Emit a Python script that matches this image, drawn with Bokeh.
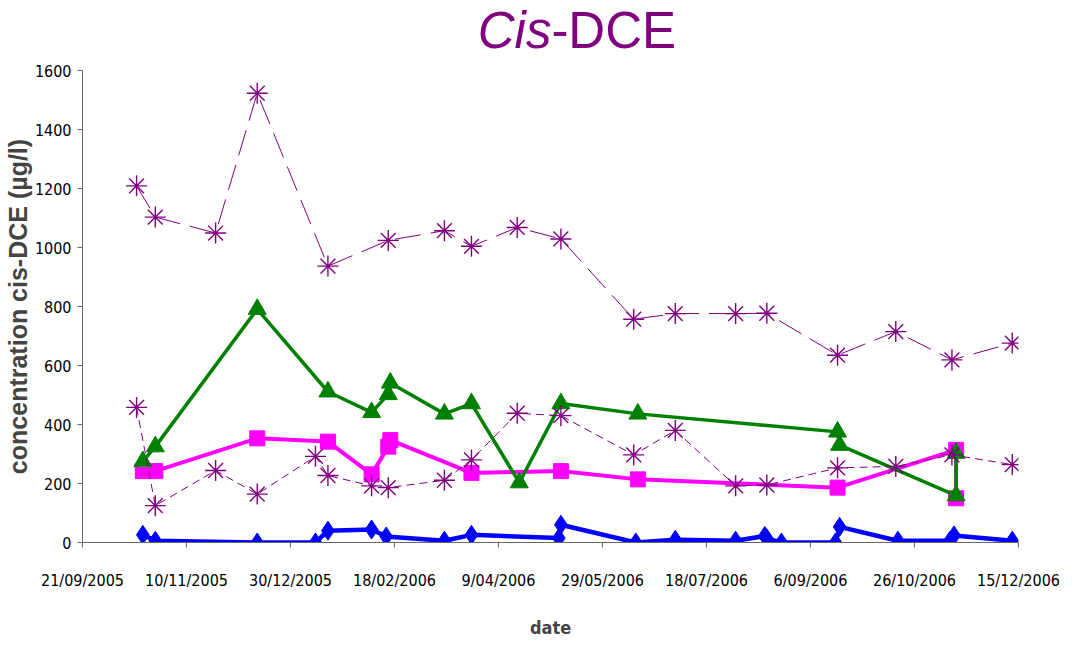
import pandas as pd
from bokeh.plotting import figure
from bokeh.layouts import column
from bokeh.models import Range1d, FixedTicker, Label
from bokeh.embed import file_html
from bokeh.resources import INLINE

# ---------------- data ----------------
upper_dates = ["2005-10-17", "2005-10-26", "2005-11-24", "2005-12-14", "2006-01-17", "2006-02-15",
               "2006-03-14", "2006-03-27", "2006-04-18", "2006-05-09", "2006-06-13", "2006-07-03",
               "2006-08-01", "2006-08-16", "2006-09-19", "2006-10-17", "2006-11-13", "2006-12-12"]
upper_vals = [1209, 1103, 1049, 1523, 937, 1024, 1057, 1004, 1068, 1029, 757, 776, 776, 777, 635, 715, 619, 676]

lower_dates = ["2005-10-17", "2005-10-26", "2005-11-24", "2005-12-14", "2006-01-11", "2006-01-17",
               "2006-02-07", "2006-02-15", "2006-03-14", "2006-03-27", "2006-04-18", "2006-05-09",
               "2006-06-13", "2006-07-03", "2006-08-01", "2006-08-16", "2006-09-19", "2006-10-17",
               "2006-11-13", "2006-12-12"]
lower_vals = [458, 125, 244, 164, 292, 227, 192, 186, 211, 280, 438, 430, 297, 380, 192, 195, 253, 258, 297, 264]

green_dates = ["2005-10-20", "2005-10-26", "2005-12-14", "2006-01-17", "2006-02-07", "2006-02-15",
               "2006-02-16", "2006-03-14", "2006-03-27", "2006-04-19", "2006-05-09", "2006-06-15",
               "2006-09-19", "2006-09-20", "2006-11-15", "2006-11-15"]
green_vals = [275, 325, 791, 511, 441, 502, 541, 436, 471, 203, 471, 436, 375, 330, 159, 303]

magenta_dates = ["2005-10-20", "2005-10-26", "2005-12-14", "2006-01-17", "2006-02-07", "2006-02-15",
                 "2006-02-16", "2006-03-27", "2006-05-09", "2006-06-15", "2006-09-19", "2006-11-15",
                 "2006-11-15"]
magenta_vals = [242, 242, 353, 342, 231, 325, 347, 236, 242, 214, 186, 314, 150]

blue_dates = ["2005-10-20", "2005-10-26", "2005-12-14", "2006-01-11", "2006-01-17", "2006-02-07",
              "2006-02-14", "2006-03-14", "2006-03-27", "2006-05-08", "2006-05-09", "2006-06-14",
              "2006-07-03", "2006-08-01", "2006-08-15", "2006-08-16", "2006-08-23", "2006-09-18",
              "2006-09-20", "2006-10-18", "2006-11-12", "2006-11-14", "2006-12-12"]
blue_vals = [26, 6, 0, 0, 40, 44, 20, 6, 26, 15, 60, 0, 9, 6, 22, 14, 0, 0, 53, 6, 6, 24, 6]

tick_dates = ["2005-09-21", "2005-11-10", "2005-12-30", "2006-02-18", "2006-04-09",
              "2006-05-29", "2006-07-18", "2006-09-06", "2006-10-26", "2006-12-15"]
tick_labels = ["21/09/2005", "10/11/2005", "30/12/2005", "18/02/2006", "9/04/2006",
               "29/05/2006", "18/07/2006", "6/09/2006", "26/10/2006", "15/12/2006"]
y_ticks = [0, 200, 400, 600, 800, 1000, 1200, 1400, 1600]


def ms(s):
    return pd.Timestamp(s).value / 1e6


def dt(lst):
    return pd.to_datetime(lst)


TICK_FONT = "'DejaVu Sans Condensed', 'Liberation Sans'"
PURPLE = "#800080"
AXIS_GREY = "#666666"
W = 1060

# ---------------- title strip ----------------
t = figure(width=W, height=60, x_range=Range1d(0, W), y_range=Range1d(0, 60),
           x_axis_location=None, y_axis_location=None, toolbar_location=None,
           output_backend="svg", min_border=0)
t.outline_line_color = None
t.grid.visible = False
t.add_layout(Label(x=531, y=30, text="Cis", text_font="Liberation Sans",
                   text_font_style="italic", text_font_size="51px", text_color=PURPLE,
                   text_align="right", text_baseline="alphabetic"))
t.add_layout(Label(x=531, y=30, text="-DCE", text_font="Liberation Sans",
                   text_font_size="51px", text_color=PURPLE,
                   text_align="left", text_baseline="alphabetic"))

# ---------------- main chart ----------------
p = figure(width=W, height=580, x_axis_type="datetime", output_backend="svg",
           toolbar_location=None,
           x_range=Range1d(ms(tick_dates[0]), ms(tick_dates[-1])), y_range=Range1d(0, 1600),
           min_border_left=75, min_border_right=42, min_border_top=10, min_border_bottom=89)
p.outline_line_color = None
p.xgrid.visible = False
p.ygrid.visible = False
p.background_fill_color = "white"
p.border_fill_color = "white"

tick_ms = [ms(d) for d in tick_dates]
p.xaxis.ticker = FixedTicker(ticks=tick_ms)
p.xaxis.major_label_overrides = {t_: l for t_, l in zip(tick_ms, tick_labels)}
p.yaxis.ticker = FixedTicker(ticks=y_ticks)

for ax in (p.xaxis[0], p.yaxis[0]):
    ax.axis_line_color = AXIS_GREY
    ax.major_tick_line_color = AXIS_GREY
    ax.minor_tick_line_color = None
    ax.major_tick_out = 5
    ax.major_tick_in = 0
    ax.major_label_text_font = TICK_FONT
    ax.major_label_text_font_size = "16px"
    ax.major_label_text_color = "black"

p.xaxis.major_label_standoff = 23
p.xaxis.axis_label = "date"
p.xaxis.axis_label_text_font = TICK_FONT
p.xaxis.axis_label_text_font_style = "bold"
p.xaxis.axis_label_text_font_size = "18px"
p.xaxis.axis_label_standoff = 24

p.yaxis.major_label_standoff = 6
p.yaxis.axis_label = "concentration cis-DCE (µg/l)"
p.yaxis.axis_label_text_font = "Liberation Sans"
p.yaxis.axis_label_text_font_style = "bold"
p.yaxis.axis_label_text_font_size = "25px"
p.yaxis.axis_label_standoff = 0

# series
p.line(dt(magenta_dates), magenta_vals, line_color="#FF00FF", line_width=4)
p.scatter(dt(magenta_dates), magenta_vals, marker="square", size=15, color="#FF00FF")

p.line(dt(green_dates), green_vals, line_color="#008000", line_width=3.5)
p.scatter(dt(green_dates), green_vals, marker="triangle", size=18, color="#008000")

p.line(dt(lower_dates), lower_vals, line_color=PURPLE, line_width=1, line_dash="8 5")
p.scatter(dt(lower_dates), lower_vals, marker="asterisk", size=21, line_color=PURPLE, line_width=1.4)

p.line(dt(upper_dates), upper_vals, line_color=PURPLE, line_width=1, line_dash="26 10")
p.scatter(dt(upper_dates), upper_vals, marker="asterisk", size=21, line_color=PURPLE, line_width=1.4)

p.line(dt(blue_dates), blue_vals, line_color="#0000FF", line_width=4.5)
p.scatter(dt(blue_dates), blue_vals, marker="diamond", size=19, color="#0000FF")

layout = column(t, p, spacing=0)
open("out.html", "w").write(file_html(layout, INLINE))
